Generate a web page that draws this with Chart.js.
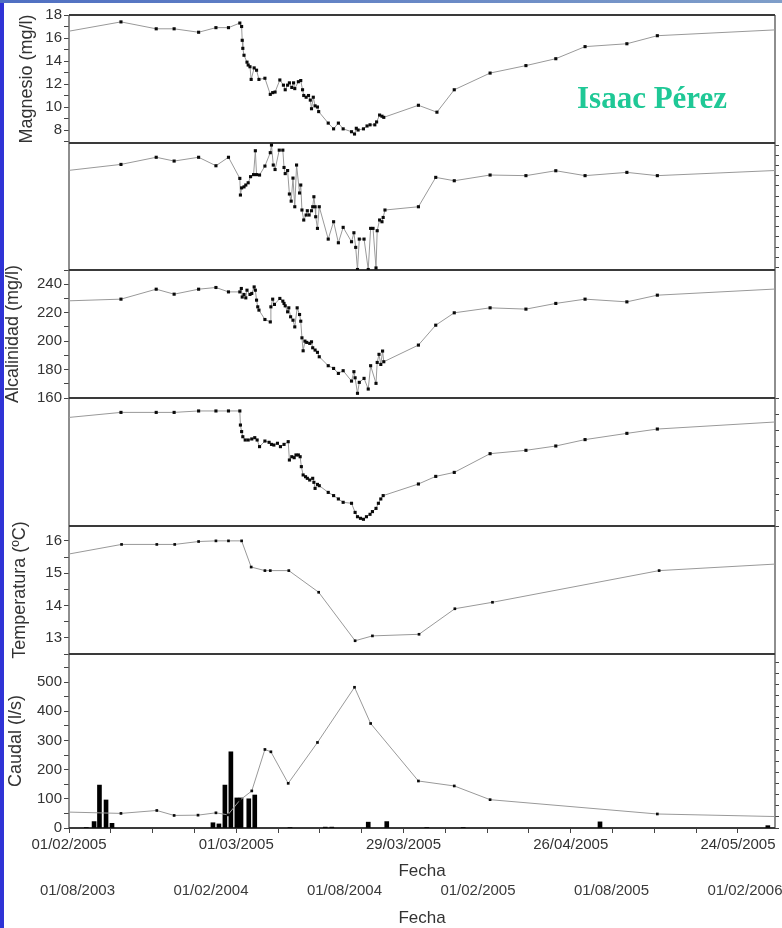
<!DOCTYPE html>
<html lang="es">
<head>
<meta charset="UTF-8">
<title>Magnesio, alcalinidad, temperatura y caudal</title>
<style>
  body { margin: 0; background: #fff; }
  #wrap { position: relative; width: 782px; height: 928px; overflow: hidden; background: #fff; }
  #chart { position: absolute; left: 0; top: 0; }
  #leftBar { position: absolute; left: 0; top: 0; width: 4px; height: 928px; background: #2f33d6; }
  #topBar { position: absolute; left: 0; top: 0; width: 782px; height: 3px; background: linear-gradient(to right, #4f6fc2, #7f9ec9); }
</style>
<script src="https://cdn.jsdelivr.net/npm/chart.js@4"></script>
</head>
<body>
<div id="wrap">
  <canvas id="chart" width="782" height="928"></canvas>
  <div id="leftBar"></div>
  <div id="topBar"></div>
</div>
<script>
// x values are days counted from 01/02/2005 (bottom date axis)
const xTickLabels = ['01/02/2005', '01/03/2005', '29/03/2005', '26/04/2005', '24/05/2005'];
const x2TickLabels = ['01/08/2003', '01/02/2004', '01/08/2004', '01/02/2005', '01/08/2005', '01/02/2006'];

// Magnesio (mg/l)
const mgDays = [-1, 8.7, 14.6, 17.6, 21.7, 24.6, 26.7, 28.6, 28.9, 29.0, 29.1, 29.3, 29.8, 30.0, 30.3, 30.5, 31.0, 31.4, 31.8, 32.8, 33.7, 34.1, 34.5, 35.3, 35.9, 36.2, 36.6, 36.9, 37.3, 37.6, 37.8, 38.4, 38.8, 39.1, 39.3, 39.7, 40.1, 40.4, 40.6, 40.9, 41.2, 41.6, 41.8, 43.4, 44.3, 45.1, 45.9, 47.3, 47.8, 48.1, 48.4, 49.3, 49.9, 50.4, 51.2, 51.5, 52.0, 52.4, 52.7, 58.5, 61.6, 64.5, 70.5, 76.5, 81.5, 86.4, 93.4, 98.5, 120];
const mgValues = [16.5, 17.4, 16.8, 16.8, 16.5, 16.9, 16.9, 17.3, 17.0, 15.8, 15.1, 14.5, 13.9, 13.65, 13.5, 12.4, 13.4, 13.2, 12.4, 12.5, 11.1, 11.25, 11.3, 12.35, 11.9, 11.5, 11.9, 12.1, 11.7, 12.1, 11.6, 12.2, 12.3, 11.5, 11.0, 10.85, 11.0, 10.6, 9.85, 10.85, 10.1, 10.0, 9.6, 8.6, 8.1, 8.6, 8.1, 7.85, 7.65, 8.15, 8.0, 8.1, 8.35, 8.45, 8.45, 8.7, 9.3, 9.2, 9.1, 10.15, 9.55, 11.5, 12.95, 13.6, 14.2, 15.25, 15.5, 16.2, 16.75];

// second panel (scale labels not shown in the picture)
const p2Days = [-1, 8.7, 14.6, 17.6, 21.7, 24.6, 26.7, 28.6, 28.7, 28.9, 29.3, 29.6, 30.0, 30.4, 30.9, 31.2, 31.4, 31.9, 32.8, 33.7, 33.9, 34.2, 34.5, 35.2, 35.8, 36.0, 36.2, 36.6, 36.9, 37.2, 37.5, 37.8, 38.1, 38.6, 38.8, 39.0, 39.3, 39.7, 39.9, 40.2, 40.6, 40.8, 41.0, 41.2, 41.3, 41.6, 41.9, 43.4, 44.3, 45.1, 45.9, 47.3, 47.7, 48.0, 48.3, 48.6, 49.4, 50.1, 50.5, 50.9, 51.4, 51.6, 52.0, 52.4, 52.6, 52.9, 58.5, 61.4, 64.5, 70.5, 76.5, 81.5, 86.4, 93.4, 98.5, 120];
const p2Values = [9.45, 10.1, 10.8, 10.43, 10.8, 9.97, 10.8, 8.73, 7.1, 7.8, 7.9, 8.08, 8.3, 8.9, 9.1, 11.44, 9.1, 9.06, 9.94, 11.25, 12.0, 10.04, 9.6, 11.5, 11.5, 9.8, 9.2, 9.5, 7.2, 6.5, 8.76, 5.95, 10.04, 7.3, 8.08, 5.63, 4.65, 5.14, 5.56, 5.14, 5.56, 5.95, 6.93, 5.95, 4.97, 3.83, 5.95, 2.78, 4.48, 2.42, 3.93, 2.52, 3.4, 1.97, -0.2, 2.78, 2.78, -0.2, 3.83, 3.83, -0.05, 3.6, 4.65, 4.48, 4.9, 5.63, 5.95, 8.83, 8.5, 9.06, 9.0, 9.48, 9.0, 9.32, 9.0, 9.55];

// Alcalinidad (mg/l)
const alkDays = [-1, 8.7, 14.6, 17.6, 21.7, 24.6, 26.7, 28.6, 28.85, 29.0, 29.3, 29.6, 29.8, 30.3, 30.6, 31.0, 31.2, 31.4, 31.6, 31.8, 32.8, 33.7, 33.8, 34.1, 34.4, 35.3, 35.8, 36.0, 36.2, 36.6, 36.8, 37.1, 37.5, 37.8, 38.2, 38.6, 38.8, 39.0, 39.2, 39.5, 39.8, 40.3, 40.6, 40.8, 41.2, 41.6, 41.9, 43.4, 44.3, 45.1, 45.9, 47.3, 47.7, 47.9, 48.3, 48.6, 49.4, 50.1, 50.5, 51.4, 51.6, 51.9, 52.2, 52.5, 52.7, 58.5, 61.4, 64.5, 70.5, 76.5, 81.5, 86.4, 93.4, 98.5, 120];
const alkValues = [228.2, 229.5, 236.5, 233, 236.5, 237.7, 234.6, 234.6, 237, 231, 232.8, 230.4, 235.8, 232.8, 233.5, 238.1, 235.8, 228.8, 224.1, 221.8, 215.2, 213.5, 224.1, 229.5, 225.8, 230, 228.1, 226.5, 224.8, 220.6, 223.4, 217.1, 214.7, 210, 223.4, 218.7, 214, 202.3, 193.2, 200, 199.1, 198.4, 199.5, 195.3, 193.7, 192.1, 189, 182.7, 180.8, 177.3, 179.2, 171.9, 178.5, 174.2, 163.3, 171, 173.8, 166.3, 182.7, 170.3, 185, 190.7, 183.6, 193, 185.5, 197.2, 211.2, 219.9, 223.4, 222.5, 226.5, 229.5, 227.6, 232.3, 237];

// fourth panel (scale labels not shown in the picture)
const p4Days = [-1, 8.7, 14.6, 17.6, 21.7, 24.6, 26.7, 28.6, 28.7, 28.9, 29.1, 29.5, 30.0, 30.6, 31.1, 31.5, 31.9, 32.8, 33.5, 33.9, 34.3, 34.9, 35.4, 36.0, 36.7, 36.9, 37.3, 37.7, 38.0, 38.4, 38.7, 38.9, 39.2, 39.6, 39.9, 40.3, 40.8, 41.0, 41.2, 41.6, 41.9, 43.4, 44.3, 45.1, 45.9, 47.3, 47.9, 48.3, 48.8, 49.3, 49.8, 50.4, 50.8, 51.4, 51.8, 52.2, 52.6, 58.5, 61.4, 64.5, 70.5, 76.5, 81.5, 86.4, 93.4, 98.5, 120];
const p4Values = [6.75, 7.1, 7.1, 7.1, 7.19, 7.19, 7.19, 7.19, 6.31, 5.9, 5.58, 5.375, 5.375, 5.44, 5.52, 5.375, 4.96, 5.31, 5.23, 5.1, 5.06, 5.17, 4.96, 5.1, 5.27, 4.125, 4.33, 4.27, 4.44, 4.44, 4.33, 3.71, 3.19, 3.08, 2.98, 2.875, 2.98, 2.73, 2.35, 2.6, 2.52, 2.1, 1.9, 1.69, 1.48, 1.42, 0.85, 0.58, 0.48, 0.42, 0.58, 0.73, 0.9, 1.1, 1.42, 1.69, 1.9, 2.625, 3.1, 3.35, 4.52, 4.73, 5.0, 5.4, 5.79, 6.06, 6.54];

// Temperatura (ºC)
const tempDays = [-1, 8.8, 14.7, 17.7, 21.7, 24.6, 26.7, 28.9, 30.5, 32.8, 33.7, 36.8, 41.8, 47.9, 50.8, 58.6, 64.6, 70.9, 98.8, 120];
const tempValues = [15.56, 15.89, 15.89, 15.89, 15.98, 16.0, 16.0, 16.0, 15.19, 15.08, 15.08, 15.08, 14.41, 12.91, 13.06, 13.11, 13.9, 14.1, 15.08, 15.3];

// Caudal (l/s), line
const flowDays = [-1, 8.7, 14.7, 17.6, 21.6, 24.6, 26.6, 28.6, 30.6, 32.8, 33.8, 36.7, 41.6, 47.8, 50.5, 58.5, 64.5, 70.5, 98.5, 120];
const flowValues = [55, 50, 60, 43, 44, 52, 45, 95, 127, 269, 261, 153, 293, 482, 358, 161, 144, 97, 48, 38.5];

// bars in the Caudal panel
const barDays = [2.9, 4.2, 5.1, 6.2, 7.2, 24.1, 25.1, 26.1, 27.1, 28.1, 28.8, 30.1, 31.1, 37.0, 42.9, 44.0, 50.1, 53.2, 59.9, 66.0, 88.9, 117.0];
const barValues = [2, 22, 147, 96, 16, 18, 14, 147, 261, 103, 103, 100, 113, 2, 3, 3, 20, 22, 2, 2, 21, 8];

const FONT = 'Arial, "Liberation Sans", Helvetica, sans-serif';
const TXT = '#333';
const TICK = '#444';
Chart.defaults.font.family = FONT;

function series(days, vals) {
  return days.map((d, i) => ({ x: d, y: vals[i] }));
}

function lineSet(days, vals, axis, r) {
  return {
    type: 'line',
    data: series(days, vals),
    xAxisID: 'x',
    yAxisID: axis,
    borderColor: '#999',
    borderWidth: 1,
    pointStyle: 'rect',
    pointRadius: r,
    pointBorderWidth: 0,
    pointBackgroundColor: '#0a0a0a',
    tension: 0,
    order: 0
  };
}

function fixSize(w, h) {
  return s => {
    if (w != null) s.width = w;
    if (h != null) s.height = h;
    s.paddingLeft = s.paddingRight = s.paddingTop = s.paddingBottom = 0;
  };
}

// labelled axis on the left of a panel
function leftAxis(o) {
  return {
    type: 'linear', position: 'left', stack: 'left', stackWeight: o.h, weight: o.w,
    min: o.min, max: o.max,
    border: { display: false },
    grid: { drawOnChartArea: false, tickLength: 5, tickColor: TICK },
    ticks: {
      stepSize: o.step, includeBounds: false, autoSkip: false, padding: 2,
      color: TXT, font: { size: 15 },
      callback: v => o.show(v) ? String(v) : ''
    },
    title: { display: true, text: o.title, color: TXT, font: { size: 18 }, padding: { top: o.tp, bottom: 0 } },
    afterFit: fixSize(69, null)
  };
}

// axis that only holds a slot in a stack
function blankAxis(pos, h, w, width, min, max) {
  return {
    type: 'linear', position: pos, stack: pos, stackWeight: h, weight: w, min, max,
    border: { display: false }, grid: { display: false }, ticks: { display: false },
    afterFit: fixSize(width, null)
  };
}

// right side tick marks without labels
function rightTicks(h, w, min, max) {
  return {
    type: 'linear', position: 'right', stack: 'right', stackWeight: h, weight: w, min, max,
    border: { display: false },
    grid: { drawOnChartArea: false, tickLength: 4, tickColor: TICK },
    ticks: { display: false, stepSize: 1, includeBounds: false, autoSkip: false },
    afterFit: fixSize(7, null)
  };
}

const panelIds = ['yMg', 'yP2', 'yAlk', 'yP4', 'yTemp', 'yFlow'];

const frames = {
  id: 'frames',
  beforeDatasetsDraw(chart) {
    const { ctx, chartArea } = chart;
    const l = chartArea.left, r = chartArea.right;
    ctx.save();
    ctx.strokeStyle = '#6a6a6a';
    ctx.lineWidth = 1.5;
    ctx.beginPath();
    ctx.moveTo(l, chartArea.top); ctx.lineTo(l, chartArea.bottom);
    ctx.moveTo(r, chartArea.top); ctx.lineTo(r, chartArea.bottom);
    ctx.stroke();
    ctx.strokeStyle = '#3a3a3a';
    ctx.lineWidth = 2;
    ctx.beginPath();
    panelIds.forEach(id => {
      const s = chart.scales[id];
      ctx.moveTo(l, s.top); ctx.lineTo(r, s.top);
    });
    ctx.moveTo(l, chartArea.bottom); ctx.lineTo(r, chartArea.bottom);
    ctx.stroke();
    ctx.restore();
  },
  afterDraw(chart) {
    const ctx = chart.ctx;
    ctx.save();
    ctx.font = 'bold 31px "Liberation Serif", "Times New Roman", serif';
    ctx.fillStyle = '#1fc896';
    ctx.textBaseline = 'alphabetic';
    ctx.fillText('Isaac Pérez', 577, 108);
    ctx.restore();
  }
};

const ctx = document.getElementById('chart').getContext('2d');

new Chart(ctx, {
  type: 'line',
  data: {
    datasets: [
      lineSet(mgDays, mgValues, 'yMg', 2.2),
      lineSet(p2Days, p2Values, 'yP2', 2.2),
      lineSet(alkDays, alkValues, 'yAlk', 2.2),
      lineSet(p4Days, p4Values, 'yP4', 2.2),
      lineSet(tempDays, tempValues, 'yTemp', 1.9),
      lineSet(flowDays, flowValues, 'yFlow', 1.9),
      {
        type: 'bar',
        data: series(barDays, barValues),
        xAxisID: 'x',
        yAxisID: 'yFlow',
        backgroundColor: '#000',
        borderWidth: 0,
        barThickness: 4,
        order: 1
      }
    ]
  },
  options: {
    responsive: false,
    animation: false,
    layout: { padding: { top: 15, left: 0, right: 0, bottom: 0 }, autoPadding: false },
    plugins: { legend: { display: false }, tooltip: { enabled: false } },
    scales: {
      x: {
        type: 'linear', position: 'bottom', weight: 0, min: 0, max: 118.2, offset: false,
        border: { display: false },
        grid: { drawOnChartArea: false, offset: false, tickLength: 5, tickColor: TICK },
        ticks: {
          stepSize: 7, includeBounds: false, autoSkip: false, maxRotation: 0, padding: 3,
          color: TXT, font: { size: 15 },
          callback: v => v % 28 === 0 ? xTickLabels[v / 28] : ''
        },
        title: { display: true, text: 'Fecha', color: TXT, font: { size: 17 }, padding: { top: 0, bottom: -4 } },
        afterFit: fixSize(null, 50)
      },
      x2: {
        type: 'linear', position: 'bottom', weight: 1, min: -0.38, max: 31.35, offset: false,
        border: { display: false },
        grid: { display: false },
        ticks: {
          stepSize: 6, includeBounds: false, autoSkip: false, maxRotation: 0, padding: -4.5,
          color: '#3a3a3a', font: { size: 15 },
          callback: v => x2TickLabels[v / 6] || ''
        },
        title: { display: true, text: 'Fecha', color: TXT, font: { size: 17 }, padding: { top: 0, bottom: -1 } },
        afterFit: fixSize(null, 50)
      },
      yMg: leftAxis({ h: 128, w: 6, min: 6.87, max: 18, step: 1, show: v => v % 2 === 0, title: 'Magnesio (mg/l)', tp: 16.7 }),
      yP2: blankAxis('left', 127, 5, 69, -0.25, 12.2),
      yAlk: leftAxis({ h: 128, w: 4, min: 160, max: 250, step: 10, show: v => (v - 160) % 20 === 0 && v < 250, title: 'Alcalinidad (mg/l)', tp: 2.5 }),
      yP4: blankAxis('left', 128, 3, 69, 0, 8),
      yTemp: leftAxis({ h: 128, w: 2, min: 12.5, max: 16.46, step: 0.5, show: v => Number.isInteger(v), title: 'Temperatura (ºC)', tp: 9.7 }),
      yFlow: leftAxis({ h: 174, w: 1, min: 0, max: 596, step: 50, show: v => v % 100 === 0, title: 'Caudal (l/s)', tp: 5.2 }),
      rMg: blankAxis('right', 128, 1, 7, 0, 1),
      rP2: rightTicks(127, 2, -0.25, 12.2),
      rAlk: blankAxis('right', 128, 3, 7, 0, 1),
      rP4: rightTicks(128, 4, 0, 8),
      rTemp: blankAxis('right', 128, 5, 7, 0, 1),
      rFlow: rightTicks(174, 6, 0, 15.8)
    }
  },
  plugins: [frames]
});
</script>
</body>
</html>
